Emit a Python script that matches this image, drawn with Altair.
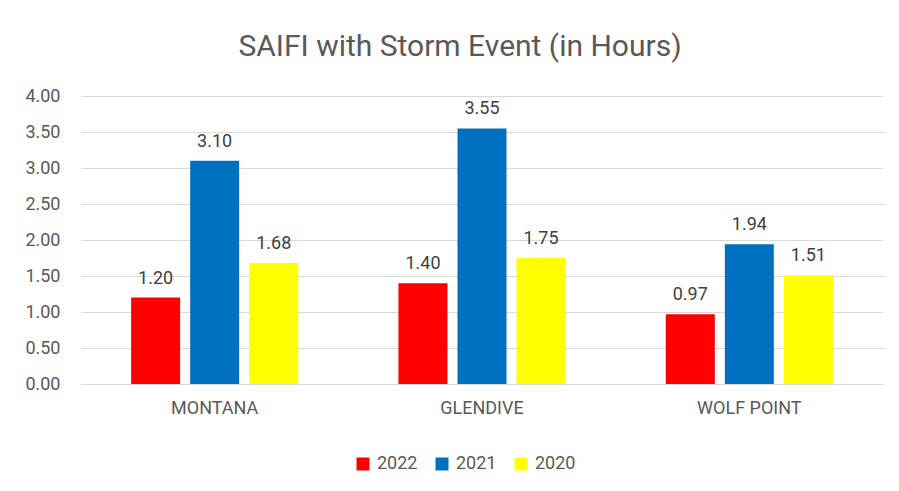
import altair as alt
import pandas as pd

regions = ["MONTANA", "GLENDIVE", "WOLF POINT"]
years = ["2022", "2021", "2020"]
v2022 = [1.20, 1.40, 0.97]
v2021 = [3.10, 3.55, 1.94]
v2020 = [1.68, 1.75, 1.51]
colors = ["#FF0000", "#0070C0", "#FFFF00"]

rows = []
for i, r in enumerate(regions):
    for y, vals in zip(years, [v2022, v2021, v2020]):
        rows.append({"region": r, "year": y, "value": vals[i]})
df = pd.DataFrame(rows)

FONT = "Roboto"

x = alt.X("region:N", sort=regions, title=None,
          scale=alt.Scale(paddingInner=0.375, paddingOuter=0.1875),
          axis=alt.Axis(labelAngle=0, labelFontSize=18, labelColor="#595959",
                        labelPadding=15, ticks=False, domainColor="#d9d9d9",
                        labelFont=FONT))
xo = alt.XOffset("year:N", sort=years, scale=alt.Scale(paddingInner=0.17, paddingOuter=0))
yenc = alt.Y("value:Q", title=None,
             scale=alt.Scale(domain=[0, 4]),
             axis=alt.Axis(values=[0, 0.5, 1, 1.5, 2, 2.5, 3, 3.5, 4], format=".2f",
                           labelFontSize=18, labelColor="#595959", labelPadding=21,
                           ticks=False, domain=False, gridColor="#d9d9d9",
                           labelFont=FONT))

bars = alt.Chart(df).mark_bar().encode(
    x=x, xOffset=xo, y=yenc,
    color=alt.Color("year:N", sort=years,
                    scale=alt.Scale(domain=years, range=colors),
                    legend=alt.Legend(title=None, orient="none", direction="horizontal",
                                      legendX=273, legendY=359, symbolType="square",
                                      symbolSize=169, symbolStrokeWidth=0,
                                      labelFontSize=18, labelColor="#595959",
                                      labelFont=FONT, labelOffset=5, columnPadding=15,
                                      padding=0)),
)

labels = alt.Chart(df).mark_text(baseline="alphabetic", dy=-14, fontSize=18,
                                 color="#404040", font=FONT).encode(
    x=x, xOffset=xo, y=yenc,
    text=alt.Text("value:Q", format=".2f"),
)

chart = (bars + labels).properties(
    width=802, height=288,
    title=alt.TitleParams("SAIFI with Storm Event (in Hours)", fontSize=30,
                          font=FONT, fontWeight="normal", color="#595959",
                          offset=25, dx=-22),
    autosize=alt.AutoSizeParams(type="none"),
    padding={"left": 73, "top": 88, "right": 8, "bottom": 99},
).configure_view(stroke=None)

chart.save("out.html", embed_options={"renderer": "svg", "actions": False})
